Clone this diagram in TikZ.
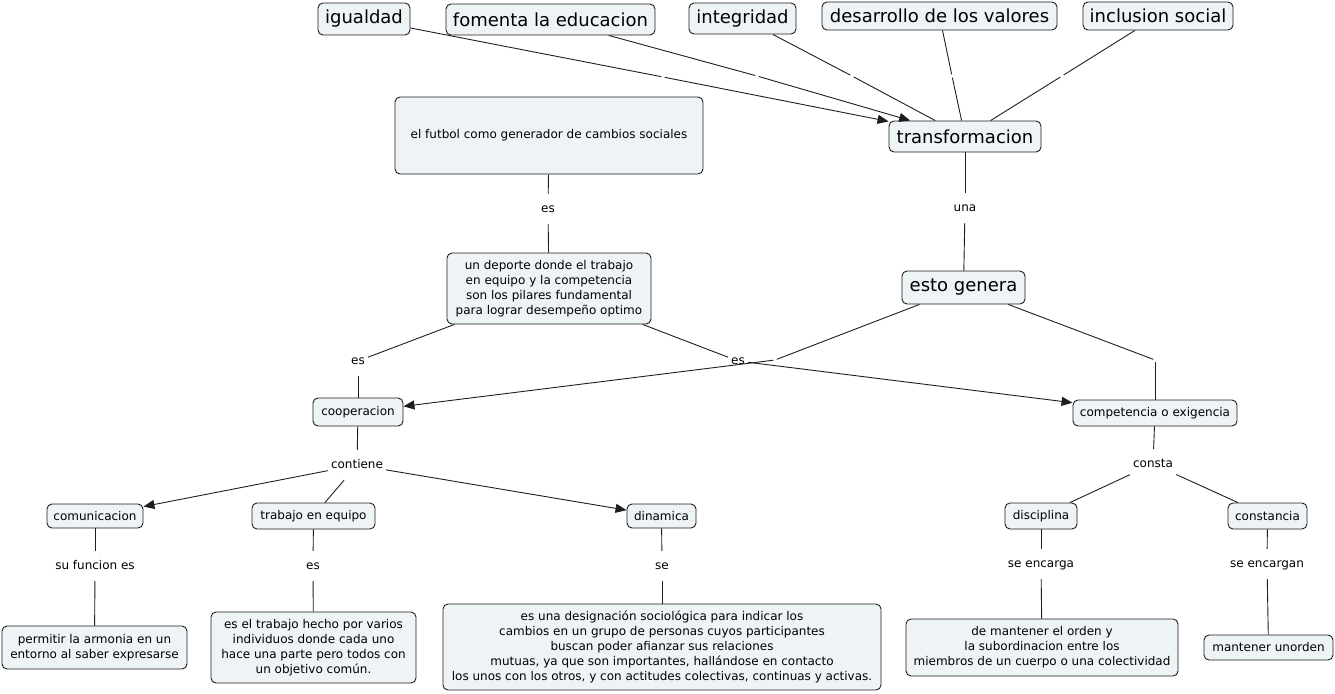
\documentclass[tikz,border=0pt]{standalone}
\usepackage{fontspec}
\setmainfont{DejaVu Sans}
\usetikzlibrary{arrows.meta}
\definecolor{boxfill}{RGB}{238,243,246}
\definecolor{linec}{RGB}{30,30,30}
\tikzset{
  box/.style={draw=linec, line width=0.9pt, fill=boxfill, rounded corners=5pt, inner sep=0pt, align=center, font=\fontsize{12}{15}\selectfont},
  bigbox/.style={box, font=\fontsize{18}{22}\selectfont},
  lbl/.style={inner xsep=3pt, inner ysep=0pt, text height=8.5pt, text depth=2.5pt, minimum height=30pt, font=\fontsize{12}{15}\selectfont},
  elbl/.style={inner sep=0pt, minimum size=3pt},
  conn/.style={draw=linec, line width=0.9pt},
  arr/.style={conn, -{Triangle[length=11pt,width=9pt]}}
}
\begin{document}
\begin{tikzpicture}[x=1pt,y=-1pt]
\useasboundingbox (0,0) rectangle (1335,693);
% top nodes
\node[bigbox, minimum width=92pt, minimum height=32pt] (igu) at (364,19) {igualdad};
\node[bigbox, minimum width=209pt, minimum height=31pt] (fom) at (550.5,19.5) {fomenta la educacion};
\node[bigbox, minimum width=107pt, minimum height=31pt] (inte) at (742.5,18.5) {integridad};
\node[bigbox, minimum width=235pt, minimum height=28pt] (des) at (939.5,16) {desarrollo de los valores};
\node[bigbox, minimum width=150pt, minimum height=28pt] (inc) at (1158,16) {inclusion social};
\node[bigbox, minimum width=152pt, minimum height=31pt] (tra) at (965,136.5) {transformacion};
\node[box, minimum width=308pt, minimum height=77pt] (fut) at (549,135.5) {el futbol como generador de cambios sociales};
\node[box, minimum width=204pt, minimum height=71pt] (dep) at (549,288.5) {un deporte donde el trabajo\\en equipo y la competencia\\son los pilares fundamental\\para lograr desempeño optimo};
\node[bigbox, minimum width=123pt, minimum height=33pt] (gen) at (963.5,287.5) {esto genera};
\node[box, minimum width=90pt, minimum height=28pt] (coo) at (358,412) {cooperacion};
\node[box, minimum width=164pt, minimum height=26pt] (comp) at (1155,413) {competencia o exigencia};
\node[box, minimum width=96pt, minimum height=24pt] (comu) at (95,516) {comunicacion};
\node[box, minimum width=123pt, minimum height=26pt] (trab) at (313.5,516) {trabajo en equipo};
\node[box, minimum width=69pt, minimum height=24pt] (din) at (661.5,516) {dinamica};
\node[box, minimum width=72pt, minimum height=26pt] (dis) at (1041,516) {disciplina};
\node[box, minimum width=79pt, minimum height=26pt] (cons) at (1267.5,516) {constancia};
\node[box, minimum width=185pt, minimum height=43pt] (perm) at (94.5,647.5) {permitir la armonia en un\\entorno al saber expresarse};
\node[box, minimum width=205pt, minimum height=71pt] (trabd) at (313.5,647.5) {es el trabajo hecho por varios\\individuos donde cada uno\\hace una parte pero todos con\\un objetivo común.};
\node[box, minimum width=438pt, minimum height=86pt] (dind) at (662,647) {es una designación sociológica para indicar los\\cambios en un grupo de personas cuyos participantes\\buscan poder afianzar sus relaciones\\mutuas, ya que son importantes, hallándose en contacto\\los unos con los otros, y con actitudes colectivas, continuas y activas.};
\node[box, minimum width=272pt, minimum height=57pt] (disd) at (1042,647.5) {de mantener el orden y\\la subordinacion entre los\\miembros de un cuerpo o una colectividad};
\node[box, minimum width=129pt, minimum height=25pt] (mant) at (1268.5,647.5) {mantener unorden};
% link labels
\node[elbl] (l1) at (663,77) {};
\node[elbl] (l2) at (757,76) {};
\node[elbl] (l3) at (852,76) {};
\node[elbl] (l4) at (952,76) {};
\node[elbl] (l5) at (1062,76) {};
\node[elbl] (m1) at (775,360) {};
\node[elbl] (m2) at (1155,360) {};
\node[lbl] (es1) at (548,209) {es};
\node[lbl] (una) at (965,208) {una};
\node[lbl] (esL) at (358,361) {es};
\node[lbl] (esR) at (738,361) {es};
\node[lbl] (cont) at (357,465) {contiene};
\node[lbl] (cst) at (1153,464) {consta};
\node[lbl] (suf) at (95,566) {su funcion es};
\node[lbl] (es2) at (313,566) {es};
\node[lbl] (se) at (662,566) {se};
\node[lbl] (sea) at (1041,564) {se encarga};
\node[lbl] (seb) at (1267,564) {se encargan};
% connectors
\draw[conn] (igu) -- (l1); \draw[arr] (l1) -- (tra);
\draw[conn] (fom) -- (l2); \draw[arr] (l2) -- (tra);
\draw[conn] (inte) -- (l3); \draw[conn] (l3) -- (tra);
\draw[conn] (des) -- (l4); \draw[conn] (l4) -- (tra);
\draw[conn] (inc) -- (l5); \draw[conn] (l5) -- (tra);
\draw[conn] (fut) -- (es1); \draw[conn] (es1) -- (dep);
\draw[conn] (tra) -- (una); \draw[conn] (una) -- (gen);
\draw[conn] (dep) -- (esL); \draw[conn] (esL) -- (coo);
\draw[conn] (dep) -- (esR); \draw[arr] (esR) -- (comp);
\draw[conn] (gen) -- (m1); \draw[arr] (m1) -- (coo);
\draw[conn] (gen) -- (m2); \draw[conn] (m2) -- (comp);
\draw[conn] (coo) -- (cont);
\draw[arr] (cont) -- (comu);
\draw[conn] (cont) -- (trab);
\draw[arr] (cont) -- (din);
\draw[conn] (comp) -- (cst);
\draw[conn] (cst) -- (dis);
\draw[conn] (cst) -- (cons);
\draw[conn] (comu) -- (suf); \draw[conn] (suf) -- (perm);
\draw[conn] (trab) -- (es2); \draw[conn] (es2) -- (trabd);
\draw[conn] (din) -- (se); \draw[conn] (se) -- (dind);
\draw[conn] (dis) -- (sea); \draw[conn] (sea) -- (disd);
\draw[conn] (cons) -- (seb); \draw[conn] (seb) -- (mant);
\end{tikzpicture}
\end{document}
